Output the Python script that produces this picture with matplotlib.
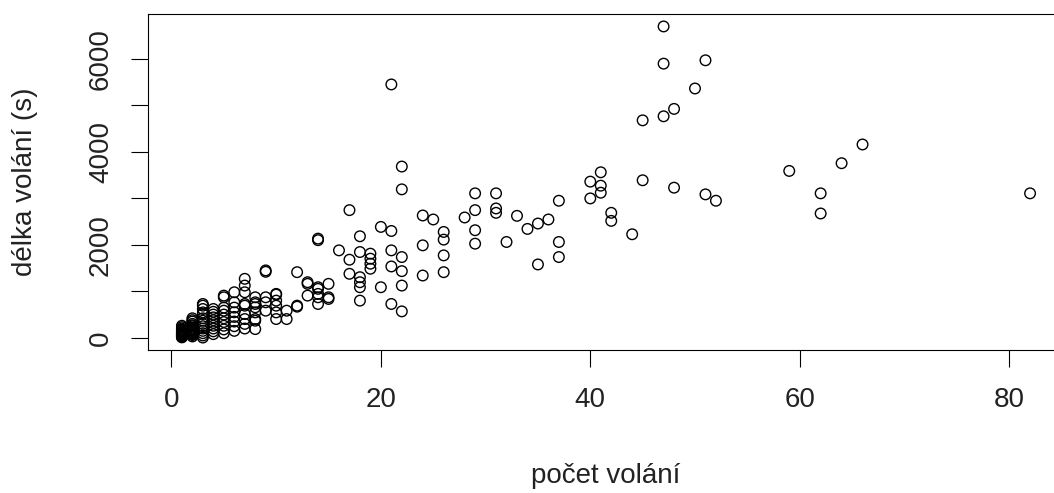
import numpy as np
import matplotlib
matplotlib.use('Agg')
from matplotlib import pyplot as plt

# pocet volani (x) -> delka volani v sekundach (y)
calls = {
    82: [3107],
    66: [4158],
    64: [3755],
    62: [3107, 2674],
    59: [3589],
    52: [2948],
    51: [5968, 3085],
    50: [5362],
    48: [4923, 3229],
    47: [6696, 5896, 4764],
    45: [4677, 3388],
    44: [2227],
    42: [2688, 2515],
    41: [3560, 3272, 3121],
    40: [3359, 2998],
    37: [2948, 2061, 1737],
    36: [2545],
    35: [2458, 1578],
    34: [2342],
    33: [2623],
    32: [2061],
    31: [3107, 2782, 2688],
    29: [3107, 2746, 2314, 2025],
    28: [2588],
    26: [2277, 2112, 1773, 1412],
    25: [2545],
    24: [2631, 1989, 1340],
    22: [3683, 3193, 1737, 1434, 1124, 569],
    21: [5449, 2298, 1881, 1535, 728],
    20: [2385, 1088],
    19: [1810, 1702, 1594, 1486],
    18: [2184, 1845, 1304, 1196, 1088, 800],
    17: [2746, 1680, 1377],
    16: [1881],
    15: [1161, 872, 836],
    14: [2133, 2100, 1088, 1053, 945, 872, 728],
    13: [1196, 1161, 908],
    12: [1412, 692, 670],
    11: [584, 404],
    10: [945, 930, 800, 692, 547, 404],
    9: [1450, 1420, 872, 764, 584],
    8: [872, 764, 728, 656, 547, 404, 368, 188],
    7: [1269, 1124, 980, 728, 692, 512, 404, 300, 200],
    6: [980, 764, 650, 550, 450, 350, 250, 150],
    5: [908, 872, 650, 584, 500, 420, 340, 260, 180, 100],
    4: [620, 560, 500, 440, 380, 320, 260, 200, 140, 80],
    3: [728, 692, 620, 547, 512, 420, 368, 300, 250, 200, 150, 100, 50, 6],
    2: [420, 380, 350, 300, 270, 250, 220, 200, 180, 160, 140, 120, 100, 80, 60, 30],
    1: [260, 230, 200, 180, 170, 150, 140, 120, 110, 100, 90, 80, 70, 60, 50, 40, 30, 20, 10],
}

x = []
y = []
for k in calls:
    for v in calls[k]:
        x.append(k)
        y.append(v)
x = np.array(x, dtype=float)
y = np.array(y, dtype=float)

plt.rcParams['font.family'] = ['Liberation Sans', 'DejaVu Sans']

my_dpi = 100
W, H = 1054, 493
fig = plt.figure(figsize=(W/my_dpi, H/my_dpi), dpi=my_dpi)
# plot region in pixels (right edge runs past the image like the original)
left, right, top, bottom = 148, 1064, 14, 350
ax = fig.add_axes([left/W, (H-bottom)/H, (right-left)/W, (bottom-top)/H])

ax.scatter(x, y, s=58, facecolors='none', edgecolors='black', linewidths=1.0)

# R style 4% padding
xr = x.max() - x.min()
yr = y.max() - y.min()
ax.set_xlim(x.min() - 0.04*xr, x.max() + 0.04*xr)
ax.set_ylim(y.min() - 0.04*yr, y.max() + 0.04*yr)

ax.set_xticks([0, 20, 40, 60, 80])
yt = [0, 1000, 2000, 3000, 4000, 5000, 6000]
ax.set_yticks(yt)
ax.set_yticklabels([str(v) if v % 2000 == 0 else '' for v in yt],
                   rotation=90, va='center')

fs = 20
for s in ax.spines.values():
    s.set_linewidth(0.8)
ax.tick_params(axis='both', length=12.5, width=0.8, labelsize=fs,
               color='black', labelcolor='#222222')
ax.tick_params(axis='x', pad=14)
ax.tick_params(axis='y', pad=12)

fig.text(606/W, 1 - 483/H, 'počet volání', ha='center', va='baseline',
         fontsize=fs, color='#222222')
fig.text(25/W, 1 - 182/H, 'délka volání (s)', ha='center', va='center',
         rotation=90, fontsize=fs, color='#222222')

plt.savefig('out.png', dpi=my_dpi)
